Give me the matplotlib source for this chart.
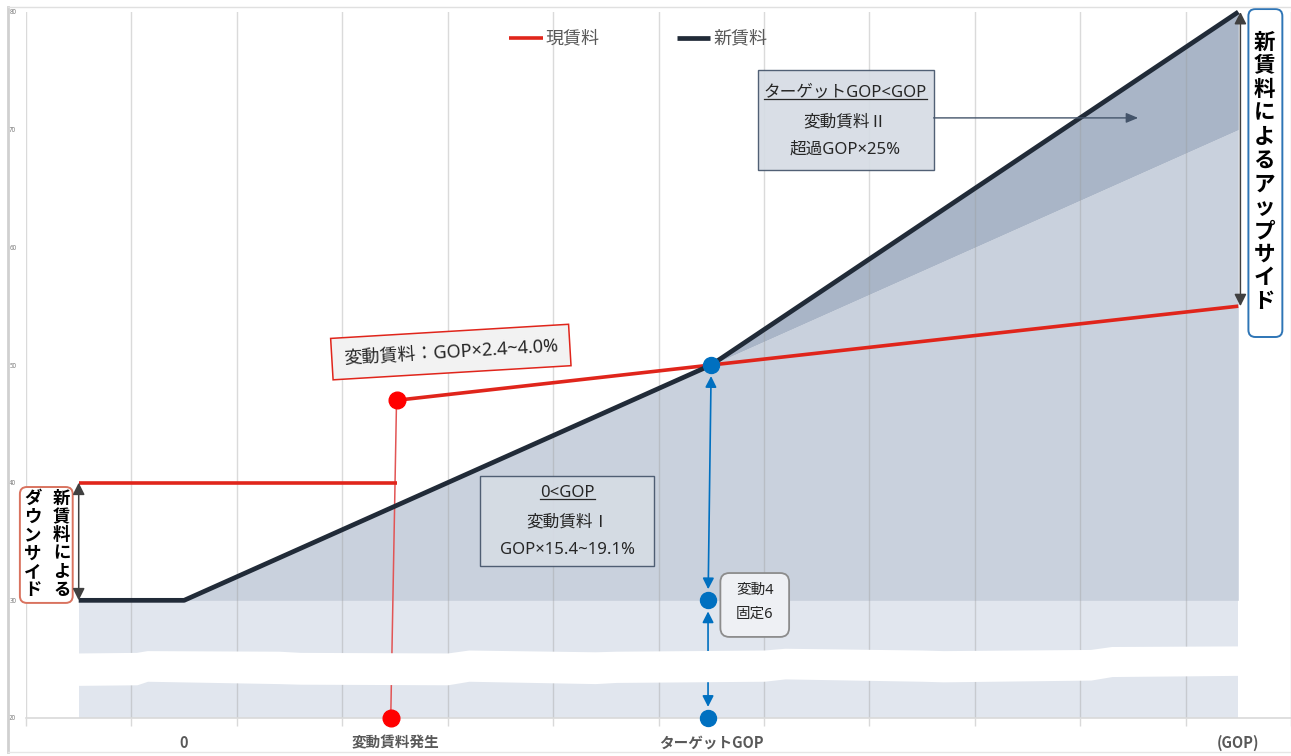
import matplotlib
matplotlib.use("Agg")
import matplotlib.pyplot as plt
from matplotlib.lines import Line2D
from matplotlib.patches import FancyBboxPatch, Rectangle

# Latin glyphs from Noto Sans, Japanese falls through to the CJK family
plt.rcParams['font.family'] = ['Noto Sans', 'Noto Sans CJK JP', 'DejaVu Sans']
BOLD_FAMILY = ['Noto Sans CJK JP', 'DejaVu Sans']

# GOP axis: 12 category slots, only a few are labelled
CATEGORIES = ['', '0', '', '変動賃料発生', '', '', 'ターゲットGOP', '', '', '', '', '(GOP)']
Y_TICKS = [20, 30, 40, 50, 60, 70, 80]

# new rent: fixed 30, variable rent I up to target GOP, variable rent II above it
NEW_X = [0, 1, 6, 11]
NEW_Y = [30, 30, 50, 80]
# variable rent I continued past the target (lower edge of the rent II wedge)
RATE1_X = [1, 6, 11]
RATE1_Y = [30, 50, 70]
FIXED_LEVEL = 30
FLOOR = 20

# current rent: fixed 40, then variable from the point it kicks in
CUR_FIXED_X = [0, 3.015]
CUR_FIXED_Y = [40, 40]
CUR_VAR_X = [3.015, 6, 11]
CUR_VAR_Y = [47, 50, 55]

# marker points
RED_X = [2.96, 3.015]
RED_Y = [20, 47]
BLUE_X = [5.97, 5.97, 6.0]
BLUE_Y = [20, 30, 50]

# white "axis break" band across the lower fill
BREAK_X = [0, 0.55, 0.65, 1.9, 2.1, 3.5, 3.7, 4.9, 5.1, 6.5, 6.7, 8.0, 8.2, 9.6, 9.8, 11]
BREAK_TOP = [25.35, 25.4, 25.55, 25.5, 25.4, 25.35, 25.6, 25.45, 25.5, 25.6, 25.75,
             25.6, 25.55, 25.65, 25.9, 25.95]
BREAK_BOT = [22.95, 23.0, 23.3, 23.1, 23.05, 23.0, 23.3, 23.1, 23.2, 23.3, 23.5,
             23.3, 23.25, 23.4, 23.7, 23.8]

RED = '#E0251B'
NAVY = '#212B38'
BLUE = '#0070C0'
GRAY_TXT = '#595959'

W, H = 1291, 756
fig = plt.figure(figsize=(W / 100, H / 100), dpi=100)
ax = fig.add_axes([26 / W, 38 / H, 1265 / W, 706 / H])
ax.set_xlim(-0.5, 11.45)
ax.set_ylim(FLOOR, 80)

xs = range(len(CATEGORIES))

# fills
ax.fill_between([0, 11], FLOOR, FIXED_LEVEL, color='#E1E6EE', lw=0, zorder=1)
ax.fill_between(RATE1_X, FIXED_LEVEL, RATE1_Y, color='#C9D1DD', lw=0, zorder=1)
ax.fill_between(NEW_X[2:], RATE1_Y[1:], NEW_Y[2:], color='#A9B5C7', lw=0, zorder=1)

# rent lines
ax.plot(CUR_FIXED_X, CUR_FIXED_Y, color=RED, lw=2.6, zorder=3, solid_capstyle='butt')
line_cur, = ax.plot(CUR_VAR_X, CUR_VAR_Y, color=RED, lw=2.6, zorder=3,
                    solid_capstyle='butt', label='現賃料')
line_new, = ax.plot(NEW_X, NEW_Y, color=NAVY, lw=3.4, zorder=3,
                    solid_capstyle='butt', clip_on=False, label='新賃料')

# connector from variable-rent start down to the axis
ax.plot(RED_X, RED_Y, color='#E25555', lw=1.1, zorder=2.8)

# blue double arrows at target GOP
arrow_kw = dict(arrowstyle='<|-|>,head_length=0.55,head_width=0.28', color=BLUE,
                lw=1.2, shrinkA=8, shrinkB=8, mutation_scale=12)
ax.annotate('', xy=(BLUE_X[2], BLUE_Y[2]), xytext=(BLUE_X[1], BLUE_Y[1]),
            arrowprops=arrow_kw, zorder=3)
ax.annotate('', xy=(BLUE_X[1], BLUE_Y[1]), xytext=(BLUE_X[0], BLUE_Y[0]),
            arrowprops=arrow_kw, zorder=3)

# break band drawn over the lower part
ax.fill_between(BREAK_X, BREAK_BOT, BREAK_TOP, color='white', lw=3,
                edgecolor='white', joinstyle='round', zorder=4)

# dots
ax.plot(RED_X, RED_Y, 'o', color='#FF0000', ms=12, zorder=6, clip_on=False)
ax.plot(BLUE_X, BLUE_Y, 'o', color=BLUE, ms=11.5, zorder=6, clip_on=False)

# axes styling
ax.set_xticks(list(xs))
ax.set_xticklabels(CATEGORIES, fontsize=10.5, fontweight='bold', color=GRAY_TXT,
                   family=BOLD_FAMILY)
ax.set_xticks([i - 0.5 for i in range(len(CATEGORIES) + 1)], minor=True)
ax.tick_params(axis='x', which='major', length=0, pad=12)
ax.tick_params(axis='x', which='minor', length=6, color='#D9D9D9', width=1)
ax.set_yticks(Y_TICKS)
ax.tick_params(axis='y', length=0, labelsize=4.5, labelcolor='#7F7F7F', pad=7)
ax.grid(which='minor', axis='x', color='#9A9A9A', alpha=0.36, lw=1)
ax.grid(which='major', visible=False)
ax.set_axisbelow('line')
for side in ('top', 'right', 'left'):
    ax.spines[side].set_visible(False)
ax.spines['bottom'].set_color('#D9D9D9')
ax.spines['bottom'].set_linewidth(1.2)

ax.legend(handles=[line_cur, line_new], loc='center', bbox_to_anchor=(0.484, 0.962),
          ncol=2, frameon=False, fontsize=13, handlelength=1.85, handletextpad=0.15,
          columnspacing=4.3, labelcolor=GRAY_TXT)


def box_px_scale():
    (x0, y0), (x1, y1) = ax.transData.transform([(0, 0), (1, 1)])
    return abs(x1 - x0), abs(y1 - y0)


def round_box(x0, y0, x1, y1, ec, fc='white', lw=1.4, r_px=7, z=5):
    sx, sy = box_px_scale()
    patch = FancyBboxPatch((x0, y0), x1 - x0, y1 - y0,
                           boxstyle=f'round,pad=0,rounding_size={r_px / sx}',
                           mutation_aspect=sx / sy, ec=ec, fc=fc, lw=lw,
                           zorder=z, clip_on=False)
    ax.add_patch(patch)


def vertical(s):
    return '\n'.join(s)


# downside / upside callouts
round_box(-0.558, 29.78, -0.057, 39.63, ec='#D9735F')
ax.text(-0.16, 34.75, vertical('新賃料による'), ha='center', va='center', fontsize=12.5,
        fontweight='bold', linespacing=1.02, zorder=6, family=BOLD_FAMILY)
ax.text(-0.435, 34.75, vertical('ダウンサイド'), ha='center', va='center', fontsize=12.5,
        fontweight='bold', linespacing=1.02, zorder=6, family=BOLD_FAMILY)
dark_arrow = dict(arrowstyle='<|-|>,head_length=0.6,head_width=0.3', color='#404040',
                  lw=1.1, shrinkA=0, shrinkB=0, mutation_scale=12)
ax.annotate('', xy=(0, 40), xytext=(0, 30), arrowprops=dark_arrow, zorder=5)

round_box(11.096, 52.38, 11.418, 80.25, ec='#2E75B6')
ax.text(11.245, 66.4, vertical('新賃料によるアップサイド'), ha='center', va='center',
        fontsize=15.5, fontweight='bold', linespacing=1.15, zorder=6, family=BOLD_FAMILY)
ax.annotate('', xy=(11.02, 80), xytext=(11.02, 55), arrowprops=dark_arrow, zorder=5,
            annotation_clip=False)

# variable rent (current) label, slightly tilted
ax.text(3.53, 51.1, '変動賃料：GOP×2.4~4.0%', ha='center', va='center', fontsize=13,
        rotation=3.4, rotation_mode='anchor', color='#262626', zorder=6,
        bbox=dict(boxstyle='square,pad=0.65', fc='#F2F2F2', ec=RED, lw=1.1))

# variable rent I / II boxes
ax.add_patch(Rectangle((3.81, 32.93), 1.65, 7.65, fc='#D6DCE4', ec='#44546A', lw=1,
                       alpha=0.92, zorder=5))
ax.add_patch(Rectangle((6.44, 66.58), 1.67, 8.49, fc='#D6DCE4', ec='#44546A', lw=1,
                       alpha=0.92, zorder=5))
box_txt = dict(ha='center', va='center', fontsize=12, color='#262626', zorder=6)
t1 = ax.text(4.636, 39.12, '0<GOP', **box_txt)
ax.text(4.636, 36.66, '変動賃料Ⅰ', **box_txt)
ax.text(4.636, 34.28, 'GOP×15.4~19.1%', **box_txt)
t2 = ax.text(7.273, 73.12, 'ターゲットGOP<GOP', **box_txt)
ax.text(7.273, 70.65, '変動賃料Ⅱ', **box_txt)
ax.text(7.273, 68.27, '超過GOP×25%', **box_txt)
ax.annotate('', xy=(10.05, 71.0), xytext=(8.11, 71.0), zorder=5,
            arrowprops=dict(arrowstyle='-|>,head_length=0.6,head_width=0.25',
                            color='#44546A', lw=1, shrinkA=0, shrinkB=0, mutation_scale=12))

# fixed / variable split at target GOP
round_box(6.087, 26.89, 6.739, 32.32, ec='#8C8C8C', fc='#EEF0F4', lw=1.3, r_px=9)
ax.text(6.413, 30.85, '変動4', ha='center', va='center', fontsize=10.5, color='#262626', zorder=6)
ax.text(6.413, 28.8, '固定6', ha='center', va='center', fontsize=10.5, color='#262626', zorder=6)

# underline the headers of the two boxes
fig.canvas.draw()
inv = fig.transFigure.inverted()
for t in (t1, t2):
    bb = t.get_window_extent()
    (fx0, fy), (fx1, _) = inv.transform([(bb.x0, bb.y0 + 2), (bb.x1, bb.y0 + 2)])
    fig.add_artist(Line2D([fx0, fx1], [fy, fy], color='#262626', lw=0.9, zorder=7))

# outer chart frame
fig.add_artist(Line2D([8 / W, 8 / W], [4 / H, 1 - 7 / H], color='#D0D0D0', lw=2))
fig.add_artist(Line2D([8 / W, 1], [1 - 7 / H, 1 - 7 / H], color='#E0E0E0', lw=1))
fig.add_artist(Line2D([8 / W, 1], [4 / H, 4 / H], color='#E6E6E6', lw=1))

fig.savefig('out.png', dpi=100, facecolor='white')
